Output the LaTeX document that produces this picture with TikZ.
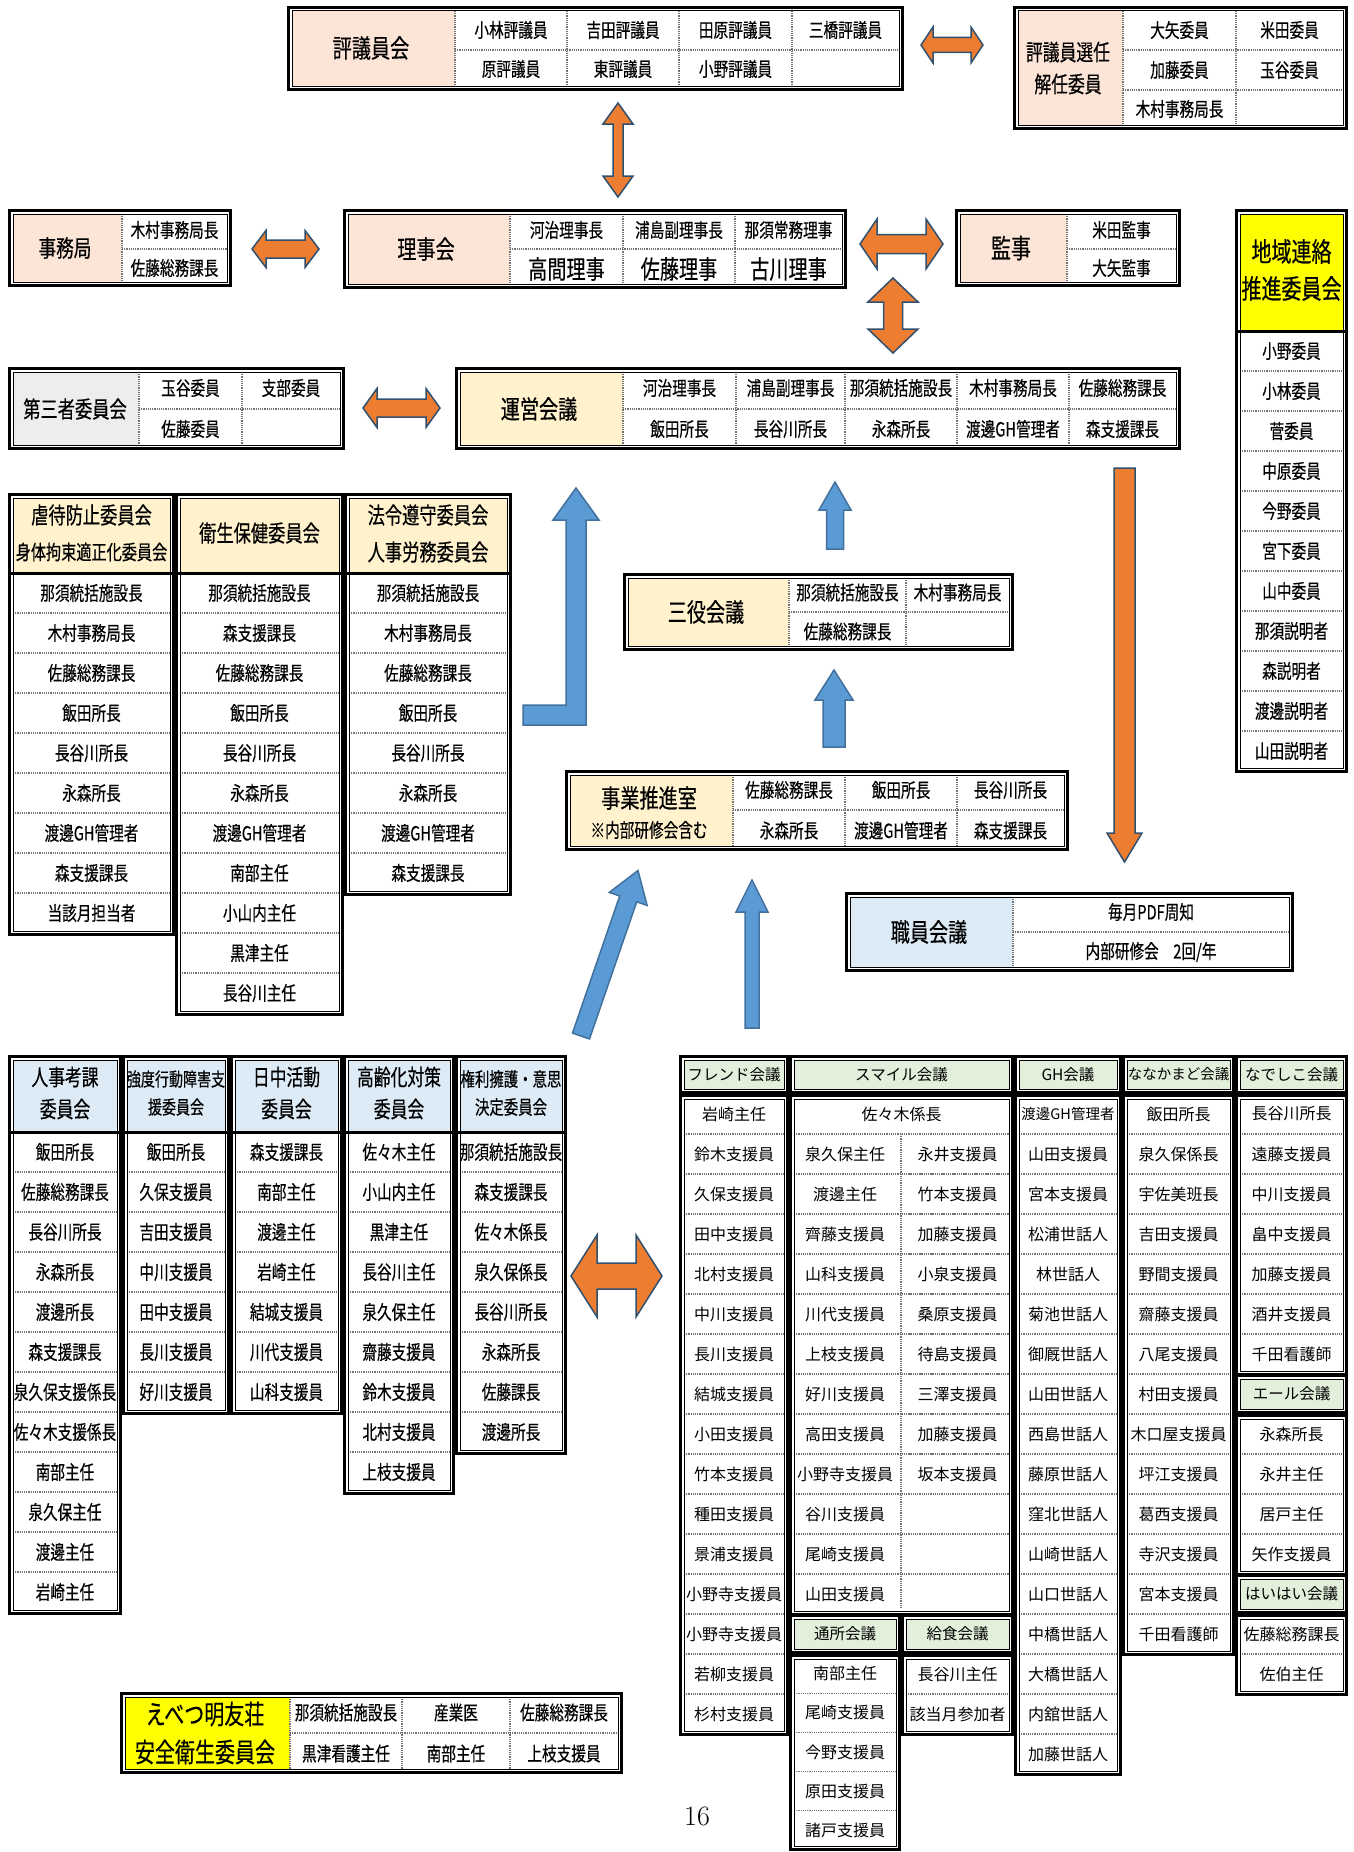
\documentclass[tikz,border=0pt]{standalone}
\usepackage{fontspec}
\newfontfamily\jc[FakeStretch=0.75,FakeBold=0.4]{Noto Sans CJK JP}
\newfontfamily\jn{Noto Sans CJK JP}
\definecolor{salmon}{HTML}{FCE4D6}
\definecolor{cream}{HTML}{FFF2CC}
\definecolor{lgray}{HTML}{EDEDED}
\definecolor{lblue}{HTML}{DDEBF7}
\definecolor{lgreen}{HTML}{E2EFDA}
\definecolor{yel}{HTML}{FFFF00}
\definecolor{arrorange}{HTML}{ED7D31}
\definecolor{oline}{HTML}{31506F}
\definecolor{arrblue}{HTML}{5B9BD5}
\definecolor{bline}{HTML}{41719C}
\tikzset{
 cl/.style={font=\jc\fontsize{19.5}{21}\selectfont, inner sep=0pt},
 hd/.style={font=\jc\fontsize{25.5}{27}\selectfont, inner sep=0pt, align=center},
 br/.style={font=\jn\fontsize{16}{18}\selectfont, inner sep=0pt},
 brh/.style={font=\jn\fontsize{15.5}{18}\selectfont, inner sep=0pt},
 sep/.style={densely dotted, line width=1.2pt, draw=black!55},
 oarr/.style={fill=arrorange, draw=oline, line width=1.5pt},
 barr/.style={fill=arrblue, draw=bline, line width=1.5pt},
}
\newcommand\dfr[4]{%
  \draw[line width=3pt] ({#1+1.5},{#2+1.5}) rectangle ({#3-1.5},{#4-1.5});
  \draw[line width=1pt] ({#1+5},{#2+5}) rectangle ({#3-5},{#4-5});}
\newcommand\hf[5]{\fill[#5] ({#1+5},{#2+5}) rectangle (#3,{#4-5});}
% name, x1, x2, y0, pitch, style, items
\newcommand\vlist[7]{%
  \foreach \itm [count=\i from 0] in {#7}{%
    \node[#6] (#1\i) at ({(#2+#3)/2},{#4+#5*\i+#5/2}) {\itm};
    \ifnum\i>0 \draw[sep] ({#2+5},{#4+#5*\i}) -- ({#3-5},{#4+#5*\i});\fi
  }}
% name, x1, y1, x2, y2, text
\newcommand\ghdr[6]{%
  \fill[lgreen] ({#2+5},{#3+5}) rectangle ({#4-5},{#5-5});
  \dfr{#2}{#3}{#4}{#5}
  \node[brh] (#1) at ({(#2+#4)/2},{(#3+#5)/2}) {#6};}
\newcommand\harr[6]{\filldraw[oarr] (#1,#3) -- ({#1+#6},{#3-#4}) -- ({#1+#6},{#3-#5}) -- ({#2-#6},{#3-#5}) -- ({#2-#6},{#3-#4}) -- (#2,#3) -- ({#2-#6},{#3+#4}) -- ({#2-#6},{#3+#5}) -- ({#1+#6},{#3+#5}) -- ({#1+#6},{#3+#4}) -- cycle;}
\newcommand\varr[6]{\filldraw[oarr] (#1,#2) -- ({#1+#4},{#2+#6}) -- ({#1+#5},{#2+#6}) -- ({#1+#5},{#3-#6}) -- ({#1+#4},{#3-#6}) -- (#1,#3) -- ({#1-#4},{#3-#6}) -- ({#1-#5},{#3-#6}) -- ({#1-#5},{#2+#6}) -- ({#1-#4},{#2+#6}) -- cycle;}
\newcommand\uarr[6]{\filldraw[barr] (#1,#2) -- ({#1+#4},{#2+#6}) -- ({#1+#5},{#2+#6}) -- ({#1+#5},#3) -- ({#1-#5},#3) -- ({#1-#5},{#2+#6}) -- ({#1-#4},{#2+#6}) -- cycle;}
\begin{document}
\begin{tikzpicture}[x=1pt,y=-1pt]
\fill[white] (0,0) rectangle (1354,1852);
\useasboundingbox (0,0) rectangle (1354,1852);

% ===== 評議員会
\hf{287}{6}{455}{91}{salmon}
\draw[sep] (455,11)--(455,86) (567,11)--(567,86) (679,11)--(679,86) (792,11)--(792,86) (455,50)--(899,50);
\dfr{287}{6}{904}{91}
\node[hd] (hyo) at (371,48) {評議員会};
\node[cl] (hyo1) at (511,30) {小林評議員};
\node[cl] (hyo2) at (623,30) {吉田評議員};
\node[cl] (hyo3) at (735.5,30) {田原評議員};
\node[cl] (hyo4) at (845.5,30) {三橋評議員};
\node[cl] (hyo5) at (511,69) {原評議員};
\node[cl] (hyo6) at (623,69) {東評議員};
\node[cl] (hyo7) at (735.5,69) {小野評議員};

% ===== 評議員選任解任委員
\hf{1013}{6}{1123}{130}{salmon}
\draw[sep] (1123,11)--(1123,125) (1236,11)--(1236,125) (1123,50)--(1343,50) (1123,90)--(1343,90);
\dfr{1013}{6}{1348}{130}
\node[hd, font=\jc\fontsize{22.4}{32}\selectfont] (sen) at (1068,68) {評議員選任\\解任委員};
\node[cl] (sen1) at (1179.5,30) {大矢委員};
\node[cl] (sen2) at (1289.5,30) {米田委員};
\node[cl] (sen3) at (1179.5,70) {加藤委員};
\node[cl] (sen4) at (1289.5,70) {玉谷委員};
\node[cl] (sen5) at (1179.5,109) {木村事務局長};

% ===== 事務局
\hf{8}{209}{122}{287}{salmon}
\draw[sep] (122,214)--(122,282) (122,249)--(227,249);
\dfr{8}{209}{232}{287}
\node[hd, font=\jc\fontsize{23.5}{25}\selectfont] (jim) at (65,248) {事務局};
\node[cl] (jim1) at (174.5,230) {木村事務局長};
\node[cl] (jim2) at (174.5,268) {佐藤総務課長};

% ===== 理事会
\hf{343}{209}{510}{289}{salmon}
\draw[sep] (510,214)--(510,284) (623,214)--(623,284) (735,214)--(735,284) (510,249)--(842,249);
\dfr{343}{209}{847}{289}
\node[hd] (rij) at (426,249) {理事会};
\node[cl] (rij1) at (566.5,230) {河治理事長};
\node[cl] (rij2) at (679,230) {浦島副理事長};
\node[cl] (rij3) at (788.5,230) {那須常務理事};
\node[hd] (rij4) at (566.5,269) {高間理事};
\node[hd] (rij5) at (679,269) {佐藤理事};
\node[hd] (rij6) at (788.5,269) {古川理事};

% ===== 監事
\hf{955}{209}{1067}{287}{salmon}
\draw[sep] (1067,214)--(1067,282) (1067,249)--(1176,249);
\dfr{955}{209}{1181}{287}
\node[hd, font=\jc\fontsize{26.7}{28}\selectfont] (kan) at (1011,248) {監事};
\node[cl] (kan1) at (1121.5,230) {米田監事};
\node[cl] (kan2) at (1121.5,268) {大矢監事};

% ===== 地域連絡推進委員会
\fill[yel] (1240,214) rectangle (1343,331);
\vlist{chi}{1235}{1348}{331}{40}{cl}{小野委員,小林委員,菅委員,中原委員,今野委員,宮下委員,山中委員,那須説明者,森説明者,渡邊説明者,山田説明者}
\draw[line width=3pt] (1235,331)--(1348,331);
\dfr{1235}{209}{1348}{773}
\node[hd, font=\jc\fontsize{26.7}{37}\selectfont] (chih) at (1291.5,270) {地域連絡\\推進委員会};

% ===== 第三者委員会
\hf{8}{367}{139}{450}{lgray}
\draw[sep] (139,372)--(139,445) (242,372)--(242,445) (139,409)--(340,409);
\dfr{8}{367}{345}{450}
\node[hd, font=\jc\fontsize{23}{25}\selectfont] (dai) at (75,409) {第三者委員会};
\node[cl] (dai1) at (190.5,388) {玉谷委員};
\node[cl] (dai2) at (291,388) {支部委員};
\node[cl] (dai3) at (190.5,429) {佐藤委員};

% ===== 運営会議
\hf{455}{367}{623}{450}{cream}
\draw[sep] (623,372)--(623,445) (736,372)--(736,445) (845,372)--(845,445) (957,372)--(957,445) (1069,372)--(1069,445) (623,409)--(1176,409);
\dfr{455}{367}{1181}{450}
\node[hd] (un) at (539,409) {運営会議};
\node[cl] (un1) at (679.5,388) {河治理事長};
\node[cl] (un2) at (790.5,388) {浦島副理事長};
\node[cl] (un3) at (901,388) {那須統括施設長};
\node[cl] (un4) at (1013,388) {木村事務局長};
\node[cl] (un5) at (1122.5,388) {佐藤総務課長};
\node[cl] (un6) at (679.5,429) {飯田所長};
\node[cl] (un7) at (790.5,429) {長谷川所長};
\node[cl] (un8) at (901,429) {永森所長};
\node[cl] (un9) at (1013,429) {渡邊GH管理者};
\node[cl] (un10) at (1122.5,429) {森支援課長};

% ===== 左委員会群
\fill[cream] (13,498) rectangle (170,573);
\vlist{gy}{8}{175}{573}{40}{cl}{那須統括施設長,木村事務局長,佐藤総務課長,飯田所長,長谷川所長,永森所長,渡邊GH管理者,森支援課長,当該月担当者}
\draw[line width=3pt] (8,573)--(175,573);
\dfr{8}{493}{175}{936}
\node[hd, font=\jc\fontsize{23}{25}\selectfont] (gyh1) at (91.5,515) {虐待防止委員会};
\node[hd, font=\jc\fontsize{20.2}{22}\selectfont] (gyh2) at (91.5,552) {身体拘束適正化委員会};

\fill[cream] (180,498) rectangle (339,573);
\vlist{ei}{175}{344}{573}{40}{cl}{那須統括施設長,森支援課長,佐藤総務課長,飯田所長,長谷川所長,永森所長,渡邊GH管理者,南部主任,小山内主任,黒津主任,長谷川主任}
\draw[line width=3pt] (175,573)--(344,573);
\dfr{175}{493}{344}{1016}
\node[hd, font=\jc\fontsize{23}{25}\selectfont] (eih) at (259.5,533) {衛生保健委員会};

\fill[cream] (349,498) rectangle (507,573);
\vlist{ho}{344}{512}{573}{40}{cl}{那須統括施設長,木村事務局長,佐藤総務課長,飯田所長,長谷川所長,永森所長,渡邊GH管理者,森支援課長}
\draw[line width=3pt] (344,573)--(512,573);
\dfr{344}{493}{512}{896}
\node[hd, font=\jc\fontsize{23}{25}\selectfont] (hoh1) at (428,515) {法令遵守委員会};
\node[hd, font=\jc\fontsize{23}{25}\selectfont] (hoh2) at (428,552) {人事労務委員会};

% ===== 三役会議
\hf{623}{573}{789}{651}{cream}
\draw[sep] (789,578)--(789,646) (906,578)--(906,646) (789,612)--(1009,612);
\dfr{623}{573}{1014}{651}
\node[hd] (san) at (706,612) {三役会議};
\node[cl] (san1) at (847.5,592.5) {那須統括施設長};
\node[cl] (san2) at (957.5,592.5) {木村事務局長};
\node[cl] (san3) at (847.5,631.5) {佐藤総務課長};

% ===== 事業推進室
\hf{565}{770}{733}{851}{cream}
\draw[sep] (733,775)--(733,846) (845,775)--(845,846) (957,775)--(957,846) (733,810)--(1064,810);
\dfr{565}{770}{1069}{851}
\node[hd] (jig) at (649,798) {事業推進室};
\node[cl] (jig0) at (649,830) {※内部研修会含む};
\node[cl] (jig1) at (789,790) {佐藤総務課長};
\node[cl] (jig2) at (901,790) {飯田所長};
\node[cl] (jig3) at (1010.5,790) {長谷川所長};
\node[cl] (jig4) at (789,830.5) {永森所長};
\node[cl] (jig5) at (901,830.5) {渡邊GH管理者};
\node[cl] (jig6) at (1010.5,830.5) {森支援課長};

% ===== 職員会議
\hf{845}{892}{1013}{972}{lblue}
\draw[sep] (1013,897)--(1013,967) (1013,932)--(1289,932);
\dfr{845}{892}{1294}{972}
\node[hd] (sho) at (929,932) {職員会議};
\node[cl] (sho1) at (1151,912) {毎月PDF周知};
\node[cl] (sho2) at (1151,952) {内部研修会　2回/年};

% ===== 左下委員会群
\fill[lblue] (13,1060) rectangle (117,1132);
\vlist{jk}{8}{122}{1132}{40}{cl}{飯田所長,佐藤総務課長,長谷川所長,永森所長,渡邊所長,森支援課長,泉久保支援係長,佐々木支援係長,南部主任,泉久保主任,渡邊主任,岩崎主任}
\draw[line width=3pt] (8,1132)--(122,1132);
\dfr{8}{1055}{122}{1615}
\node[hd, font=\jc\fontsize{22.4}{32}\selectfont] (jkh) at (65,1093) {人事考課\\委員会};

\fill[lblue] (127,1060) rectangle (225,1132);
\vlist{kd}{122}{230}{1132}{40}{cl}{飯田所長,久保支援員,吉田支援員,中川支援員,田中支援員,長川支援員,好川支援員}
\draw[line width=3pt] (122,1132)--(230,1132);
\dfr{122}{1055}{230}{1415}
\node[hd, font=\jc\fontsize{18.7}{28}\selectfont] (kdh) at (176,1093) {強度行動障害支\\援委員会};

\fill[lblue] (235,1060) rectangle (338,1132);
\vlist{nc}{230}{343}{1132}{40}{cl}{森支援課長,南部主任,渡邊主任,岩崎主任,結城支援員,川代支援員,山科支援員}
\draw[line width=3pt] (230,1132)--(343,1132);
\dfr{230}{1055}{343}{1415}
\node[hd, font=\jc\fontsize{22.4}{32}\selectfont] (nch) at (286.5,1093) {日中活動\\委員会};

\fill[lblue] (348,1060) rectangle (450,1132);
\vlist{kr}{343}{455}{1132}{40}{cl}{佐々木主任,小山内主任,黒津主任,長谷川主任,泉久保主任,齋藤支援員,鈴木支援員,北村支援員,上枝支援員}
\draw[line width=3pt] (343,1132)--(455,1132);
\dfr{343}{1055}{455}{1495}
\node[hd, font=\jc\fontsize{22.4}{32}\selectfont] (krh) at (399,1093) {高齢化対策\\委員会};

\fill[lblue] (460,1060) rectangle (562,1132);
\vlist{ky}{455}{567}{1132}{40}{cl}{那須統括施設長,森支援課長,佐々木係長,泉久保係長,長谷川所長,永森所長,佐藤課長,渡邊所長}
\draw[line width=3pt] (455,1132)--(567,1132);
\dfr{455}{1055}{567}{1455}
\node[hd, font=\jc\fontsize{19.2}{28}\selectfont] (kyh) at (511,1093) {権利擁護・意思\\決定委員会};

% ===== 右下会議群
\ghdr{frh}{679}{1055}{789}{1094}{フレンド会議}
\vlist{fr}{679}{789}{1094}{40}{br}{岩崎主任,鈴木支援員,久保支援員,田中支援員,北村支援員,中川支援員,長川支援員,結城支援員,小田支援員,竹本支援員,種田支援員,景浦支援員,小野寺支援員,小野寺支援員,若柳支援員,杉村支援員}
\dfr{679}{1094}{789}{1736}

\ghdr{smh}{789}{1055}{1014}{1094}{スマイル会議}
\node[br] (sm0) at (901.5,1114) {佐々木係長};
\foreach \k in {0,...,11} \draw[sep] (794,{1134+40*\k})--(1009,{1134+40*\k});
\draw[sep] (901,1134)--(901,1609);
\vlist{sml}{789}{901}{1134}{40}{br}{泉久保主任,渡邊主任,齊藤支援員,山科支援員,川代支援員,上枝支援員,好川支援員,高田支援員,小野寺支援員,谷川支援員,尾崎支援員,山田支援員}
\vlist{smr}{901}{1014}{1134}{40}{br}{永井支援員,竹本支援員,加藤支援員,小泉支援員,桑原支援員,待島支援員,三澤支援員,加藤支援員,坂本支援員}
\dfr{789}{1094}{1014}{1616}

\ghdr{tsh}{789}{1614}{901}{1654}{通所会議}
\vlist{ts}{789}{901}{1654}{39.2}{br}{南部主任,尾崎支援員,今野支援員,原田支援員,諸戸支援員}
\dfr{789}{1654}{901}{1851}
\ghdr{kjh}{901}{1614}{1014}{1654}{給食会議}
\vlist{kj}{901}{1014}{1654}{40}{br}{長谷川主任,該当月参加者}
\dfr{901}{1654}{1014}{1736}

\ghdr{ghh}{1014}{1055}{1122}{1094}{GH会議}
\node[br, font=\jn\fontsize{14.5}{16}\selectfont] (gh0) at (1068,1114) {渡邊GH管理者};
\vlist{gh}{1014}{1122}{1134}{40}{br}{山田支援員,宮本支援員,松浦世話人,林世話人,菊池世話人,御厩世話人,山田世話人,西島世話人,藤原世話人,窪北世話人,山崎世話人,山口世話人,中橋世話人,大橋世話人,内舘世話人,加藤世話人}
\draw[sep] (1019,1134)--(1117,1134);
\dfr{1014}{1094}{1122}{1776}

\fill[lgreen] (1127,1060) rectangle (1230,1089);
\dfr{1122}{1055}{1235}{1094}
\node[brh, font=\jn\fontsize{14.5}{16}\selectfont] (nnh) at (1178.5,1074.5) {ななかまど会議};
\vlist{nn}{1122}{1235}{1094}{40}{br}{飯田所長,泉久保係長,宇佐美班長,吉田支援員,野間支援員,齋藤支援員,八尾支援員,村田支援員,木口屋支援員,坪江支援員,葛西支援員,寺沢支援員,宮本支援員,千田看護師}
\dfr{1122}{1094}{1235}{1656}

\ghdr{ndh}{1235}{1055}{1348}{1094}{なでしこ会議}
\vlist{nd}{1235}{1348}{1094}{40}{br}{長谷川所長,遠藤支援員,中川支援員,畠中支援員,加藤支援員,酒井支援員,千田看護師}
\dfr{1235}{1094}{1348}{1376}
\ghdr{alh}{1235}{1374}{1348}{1414}{エール会議}
\vlist{al}{1235}{1348}{1414}{40}{br}{永森所長,永井主任,居戸主任,矢作支援員}
\dfr{1235}{1414}{1348}{1576}
\ghdr{hah}{1235}{1574}{1348}{1614}{はいはい会議}
\vlist{ha}{1235}{1348}{1614}{40}{br}{佐藤総務課長,佐伯主任}
\dfr{1235}{1614}{1348}{1696}

% ===== えべつ明友荘
\hf{120}{1692}{290}{1774}{yel}
\draw[sep] (290,1697)--(290,1769) (402,1697)--(402,1769) (510,1697)--(510,1769) (290,1733)--(618,1733);
\dfr{120}{1692}{623}{1774}
\node[hd, font=\jc\fontsize{26.7}{38}\selectfont] (eb) at (205,1733) {えべつ明友荘\\安全衛生委員会};
\node[cl] (eb1) at (346,1712.5) {那須統括施設長};
\node[cl] (eb2) at (456,1712.5) {産業医};
\node[cl] (eb3) at (564,1712.5) {佐藤総務課長};
\node[cl] (eb4) at (346,1753.5) {黒津看護主任};
\node[cl] (eb5) at (456,1753.5) {南部主任};
\node[cl] (eb6) at (564,1753.5) {上枝支援員};

\node[font=\fontsize{28}{30}\selectfont, inner sep=0pt] (pg) at (697,1816) {16};

% ===== 矢印（橙）
\harr{921}{983}{45}{18}{7.5}{12}
\varr{618}{103}{197}{15}{5}{21}
\harr{252}{319}{249}{18.5}{9}{14}
\harr{860}{943}{244}{25}{9.5}{17}
\varr{893}{278}{353}{25}{9.5}{24}
\harr{363}{440}{408}{19.5}{9}{14}
\harr{571}{662}{1276}{41}{13}{26}
\filldraw[oarr] (1124.5,862) -- (1142,833) -- (1135,833) -- (1135,468) -- (1114,468) -- (1114,833) -- (1107,833) -- cycle;

% ===== 矢印（青）
\filldraw[barr] (523,705) -- (566,705) -- (566,520) -- (553,520) -- (576,488) -- (599,520) -- (586,520) -- (586,725) -- (523,725) -- cycle;
\uarr{835}{482}{549}{16}{8.5}{28}
\uarr{834}{670}{747}{19}{11}{30}
\uarr{752}{880}{1028}{16}{7}{32}
\begin{scope}[shift={(581,1036)}, rotate=-19]
\uarr{0}{-175}{0}{20}{9}{30}
\end{scope}
\end{tikzpicture}
\end{document}
